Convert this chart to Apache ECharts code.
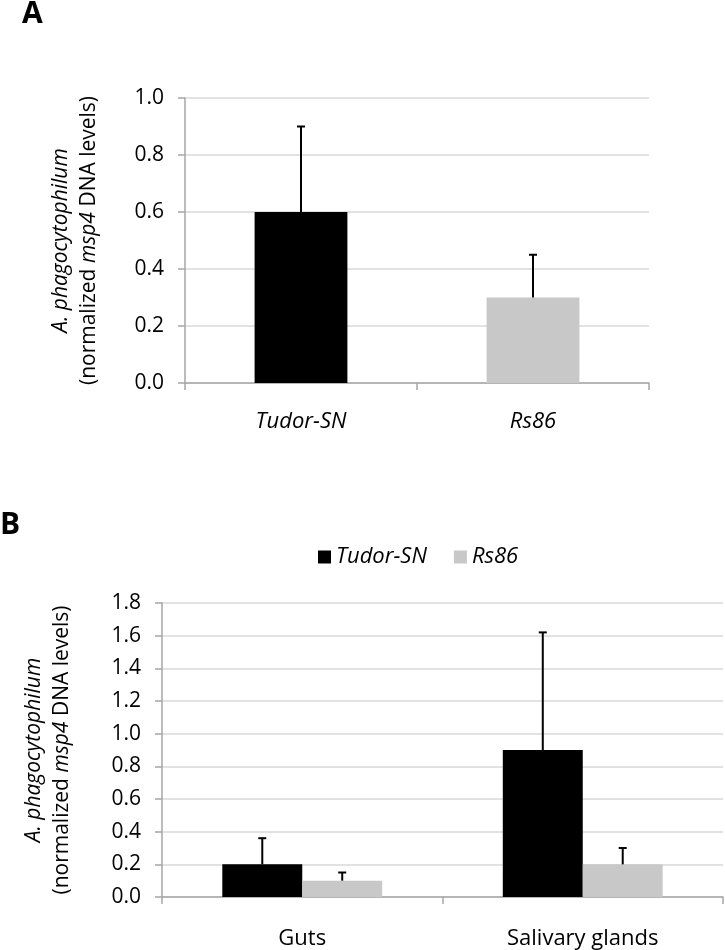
<!DOCTYPE html>
<html><head><meta charset="utf-8">
<script src="https://cdn.jsdelivr.net/npm/echarts@6/dist/echarts.min.js"></script>
<style>html,body{margin:0;padding:0;background:#fff}#c{width:725px;height:950px}</style>
</head><body><div id="c"></div>
<script>
// Panel A
const catsA = ['Tudor-SN', 'Rs86'];
const valsA = [0.6, 0.3];
const errA = [0.3, 0.15];
const colorsA = ['#000000', '#c8c8c8'];
const ticksA = { min: 0, max: 1.0, interval: 0.2 };
// Panel B
const catsB = ['Guts', 'Salivary glands'];
const seriesNamesB = ['Tudor-SN', 'Rs86'];
const tudorB = [0.2, 0.9];
const tudorErrB = [0.16, 0.72];
const rsB = [0.1, 0.2];
const rsErrB = [0.05, 0.1];
const ticksB = { min: 0, max: 1.8, interval: 0.2 };

const FONT = '"Open Sans", "Noto Sans", sans-serif';
const AXC = '#a6a6a6';
const GRIDC = '#d9d9d9';

const yName = '{i|A. phagocytophilum}\n{n|(normalized }{i|msp4}{n| DNA levels)}';
const nameStyle = {
  fontFamily: FONT, fontSize: 21, color: '#000', lineHeight: 28,
  rich: {
    i: { fontStyle: 'italic', fontFamily: FONT, fontSize: 21, color: '#000', lineHeight: 28 },
    n: { fontFamily: FONT, fontSize: 21, color: '#000', lineHeight: 28 }
  }
};

function yAxis(gi, t, gap) {
  return {
    type: 'value', gridIndex: gi, min: t.min, max: t.max, interval: t.interval,
    name: yName, nameLocation: 'middle', nameRotate: 90, nameGap: gap, nameTextStyle: nameStyle,
    axisLine: { show: true, lineStyle: { color: AXC, width: 1.5 } },
    axisTick: { show: true, length: 7, lineStyle: { color: AXC, width: 1.5 } },
    axisLabel: { fontFamily: FONT, fontSize: 21, color: '#000', margin: 21, formatter: v => v.toFixed(1) },
    splitLine: { show: true, lineStyle: { color: GRIDC, width: 1.5 } }
  };
}
function xAxis(gi, cats, italic, margin) {
  return {
    type: 'category', gridIndex: gi, data: cats,
    axisLine: { show: true, lineStyle: { color: AXC, width: 1.5 } },
    axisTick: { show: true, length: 7, lineStyle: { color: AXC, width: 1.5 } },
    axisLabel: { fontFamily: FONT, fontSize: 22, color: '#000', fontStyle: italic ? 'italic' : 'normal', margin: margin }
  };
}

function errSeries(xi, yi, vals, errs, offsetFrac) {
  return {
    type: 'custom', xAxisIndex: xi, yAxisIndex: yi, z: 5, silent: true,
    data: vals.map((v, i) => [i, v, v + errs[i]]),
    renderItem: function (params, api) {
      const band = api.size([1, 0])[0];
      const base = api.coord([api.value(0), api.value(1)]);
      const top = api.coord([api.value(0), api.value(2)]);
      const x = base[0] + band * offsetFrac;
      const cap = 4;
      return {
        type: 'group', children: [
          { type: 'line', shape: { x1: x, y1: base[1], x2: x, y2: top[1] }, style: { stroke: '#000', lineWidth: 2 } },
          { type: 'line', shape: { x1: x - cap, y1: top[1], x2: x + cap, y2: top[1] }, style: { stroke: '#000', lineWidth: 2 } }
        ]
      };
    }
  };
}

const gapB = 0.43;
const halfB = (1 - gapB) / 4;

const option = {
  animation: false,
  backgroundColor: '#fff',
  graphic: [
    { type: 'text', left: 22, top: -1, style: { text: 'A', font: 'bold 30px ' + FONT, fill: '#000' } },
    { type: 'text', left: 0, top: 510, style: { text: 'B', font: 'bold 30px ' + FONT, fill: '#000' } }
  ],
  legend: {
    data: seriesNamesB, left: 313, top: 541, itemWidth: 13, itemHeight: 13, itemGap: 27,
    textStyle: { fontFamily: FONT, fontSize: 22, fontStyle: 'italic', color: '#000' },
    icon: 'rect', selectedMode: false
  },
  grid: [
    { left: 185, top: 98, width: 464, height: 285 },
    { left: 162, top: 603, width: 561, height: 294 }
  ],
  xAxis: [xAxis(0, catsA, true, 28), xAxis(1, catsB, false, 31)],
  yAxis: [yAxis(0, ticksA, 82), yAxis(1, ticksB, 86)],
  series: [
    {
      type: 'bar', name: 'A', xAxisIndex: 0, yAxisIndex: 0, barWidth: '40%',
      data: valsA.map((v, i) => ({ value: v, itemStyle: { color: colorsA[i] } }))
    },
    errSeries(0, 0, valsA, errA, 0),
    {
      type: 'bar', name: seriesNamesB[0], xAxisIndex: 1, yAxisIndex: 1, data: tudorB,
      itemStyle: { color: '#000000' }, barGap: '0%', barCategoryGap: (gapB * 100) + '%'
    },
    {
      type: 'bar', name: seriesNamesB[1], xAxisIndex: 1, yAxisIndex: 1, data: rsB,
      itemStyle: { color: '#c8c8c8' }, barGap: '0%', barCategoryGap: (gapB * 100) + '%'
    },
    errSeries(1, 1, tudorB, tudorErrB, -halfB),
    errSeries(1, 1, rsB, rsErrB, halfB)
  ]
};
const chart = echarts.init(document.getElementById('c'), null, { renderer: 'canvas' });
chart.setOption(option);
</script></body></html>
